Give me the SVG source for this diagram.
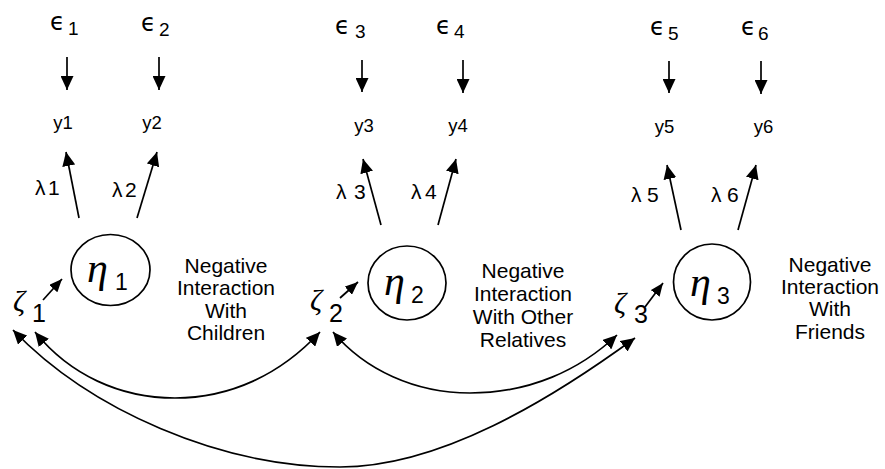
<svg xmlns="http://www.w3.org/2000/svg" width="885" height="469" viewBox="0 0 885 469">
<style>
.sans{font-family:"Liberation Sans",Arial,sans-serif;fill:#000}
.eps{font-family:"DejaVu Sans","Liberation Sans",sans-serif;font-size:24px;fill:#000}
.ital{font-family:"Liberation Serif","Times New Roman",serif;font-style:italic;fill:#000}
.lab{font-family:"Liberation Sans",Arial,sans-serif;font-size:21px;text-anchor:middle;fill:#000}
.ln{stroke:#000;stroke-width:1.7;fill:none}
.circ{stroke:#000;stroke-width:1.7;fill:#fff}
</style>
<defs>
<marker id="ah" markerUnits="userSpaceOnUse" viewBox="0 0 14 13" refX="14" refY="6.5" markerWidth="14" markerHeight="13" orient="auto-start-reverse">
<path d="M0,0 L14,6.5 L0,13 z" fill="#000"/>
</marker>
<marker id="ahs" markerUnits="userSpaceOnUse" viewBox="0 0 13 11" refX="13" refY="5.5" markerWidth="13" markerHeight="11" orient="auto-start-reverse">
<path d="M0,0 L13,5.5 L0,11 z" fill="#000"/>
</marker>
</defs>

<g id="e1"><text class="eps" x="50" y="30">ϵ</text><text class="sans" font-size="19" x="68" y="35">1</text></g>
<g id="e2"><text class="eps" x="141" y="31">ϵ</text><text class="sans" font-size="19" x="159" y="36">2</text></g>
<g id="e3"><text class="eps" x="335" y="34">ϵ</text><text class="sans" font-size="19" x="355" y="38">3</text></g>
<g id="e4"><text class="eps" x="436" y="34">ϵ</text><text class="sans" font-size="19" x="454" y="38">4</text></g>
<g id="e5"><text class="eps" x="650" y="35">ϵ</text><text class="sans" font-size="19" x="668" y="40">5</text></g>
<g id="e6"><text class="eps" x="741" y="35">ϵ</text><text class="sans" font-size="19" x="758" y="40">6</text></g>

<g id="y1"><text class="sans" font-size="18.5" x="63" y="129" text-anchor="middle">y1</text></g>
<g id="y2"><text class="sans" font-size="18.5" x="152" y="129" text-anchor="middle">y2</text></g>
<g id="y3"><text class="sans" font-size="18.5" x="364" y="132" text-anchor="middle">y3</text></g>
<g id="y4"><text class="sans" font-size="18.5" x="458" y="132" text-anchor="middle">y4</text></g>
<g id="y5"><text class="sans" font-size="18.5" x="664.5" y="133" text-anchor="middle">y5</text></g>
<g id="y6"><text class="sans" font-size="18.5" x="763.5" y="133" text-anchor="middle">y6</text></g>

<g id="l1"><text class="sans" font-size="21" x="35" y="195">λ</text><text class="sans" font-size="21" x="48" y="195">1</text></g>
<g id="l2"><text class="sans" font-size="21" x="112" y="197">λ</text><text class="sans" font-size="21" x="125" y="197">2</text></g>
<g id="l3"><text class="sans" font-size="21" x="336" y="199">λ</text><text class="sans" font-size="21" x="354" y="199">3</text></g>
<g id="l4"><text class="sans" font-size="21" x="411" y="199">λ</text><text class="sans" font-size="21" x="425" y="199">4</text></g>
<g id="l5"><text class="sans" font-size="21" x="631" y="202">λ</text><text class="sans" font-size="21" x="647" y="202">5</text></g>
<g id="l6"><text class="sans" font-size="21" x="711" y="202">λ</text><text class="sans" font-size="21" x="727" y="202">6</text></g>

<g id="eta1"><ellipse class="circ" cx="110.5" cy="270" rx="39.5" ry="35.5"/><text class="ital" font-size="42" x="87" y="282">η</text><text class="sans" font-size="23" x="115" y="290">1</text></g>
<g id="eta2"><ellipse class="circ" cx="407" cy="283" rx="39" ry="37"/><text class="ital" font-size="42" x="384" y="295">η</text><text class="sans" font-size="23" x="411" y="303">2</text></g>
<g id="eta3"><ellipse class="circ" cx="712" cy="282" rx="38.5" ry="38"/><text class="ital" font-size="42" x="690" y="296">η</text><text class="sans" font-size="23" x="717" y="304">3</text></g>

<g id="z1"><text class="ital" font-size="30" x="13" y="311">ζ</text><text class="sans" font-size="25" x="32" y="322">1</text></g>
<g id="z2"><text class="ital" font-size="30" x="310" y="310">ζ</text><text class="sans" font-size="25" x="329" y="322">2</text></g>
<g id="z3"><text class="ital" font-size="30" x="614" y="313">ζ</text><text class="sans" font-size="25" x="634" y="323">3</text></g>

<g id="lab1"><text class="lab"><tspan x="226" y="273">Negative</tspan><tspan x="226" y="295">Interaction</tspan><tspan x="226" y="318">With</tspan><tspan x="226" y="340">Children</tspan></text></g>
<g id="lab2"><text class="lab"><tspan x="523" y="278">Negative</tspan><tspan x="523" y="301">Interaction</tspan><tspan x="523" y="324">With Other</tspan><tspan x="523" y="347">Relatives</tspan></text></g>
<g id="lab3"><text class="lab"><tspan x="830" y="272">Negative</tspan><tspan x="830" y="294">Interaction</tspan><tspan x="830" y="316">With</tspan><tspan x="830" y="339">Friends</tspan></text></g>

<g id="connectors">
<line class="ln" x1="67" y1="57" x2="67" y2="90" marker-end="url(#ah)"/>
<line class="ln" x1="159" y1="57" x2="159" y2="90" marker-end="url(#ah)"/>
<line class="ln" x1="362" y1="60" x2="362" y2="92" marker-end="url(#ah)"/>
<line class="ln" x1="463" y1="60" x2="463" y2="93" marker-end="url(#ah)"/>
<line class="ln" x1="669" y1="61" x2="669" y2="93" marker-end="url(#ah)"/>
<line class="ln" x1="761" y1="61" x2="761" y2="94" marker-end="url(#ah)"/>

<line class="ln" x1="79" y1="218" x2="66" y2="152" marker-end="url(#ah)"/>
<line class="ln" x1="137" y1="218" x2="157" y2="152" marker-end="url(#ah)"/>
<line class="ln" x1="381" y1="225" x2="363" y2="159" marker-end="url(#ah)"/>
<line class="ln" x1="438" y1="225" x2="456" y2="159" marker-end="url(#ah)"/>
<line class="ln" x1="681" y1="230" x2="667" y2="165" marker-end="url(#ah)"/>
<line class="ln" x1="738" y1="230" x2="756" y2="165" marker-end="url(#ah)"/>

<line class="ln" x1="43" y1="300" x2="62" y2="279" marker-end="url(#ahs)"/>
<line class="ln" x1="340" y1="298" x2="358" y2="282" marker-end="url(#ahs)"/>
<line class="ln" x1="645" y1="307" x2="663" y2="283" marker-end="url(#ahs)"/>

<path class="ln" d="M35,332 C70,375 120,398 175,398 C230,398 280,375 320,332" marker-start="url(#ah)" marker-end="url(#ah)"/>
<path class="ln" d="M333,332 C365,370 415,393 470,393 C530,393 580,370 617,335" marker-start="url(#ah)" marker-end="url(#ah)"/>
<path class="ln" d="M13,330 C90,410 220,467 340,467 C440,467 550,400 635,338" marker-start="url(#ah)" marker-end="url(#ah)"/>
</g>
</svg>
